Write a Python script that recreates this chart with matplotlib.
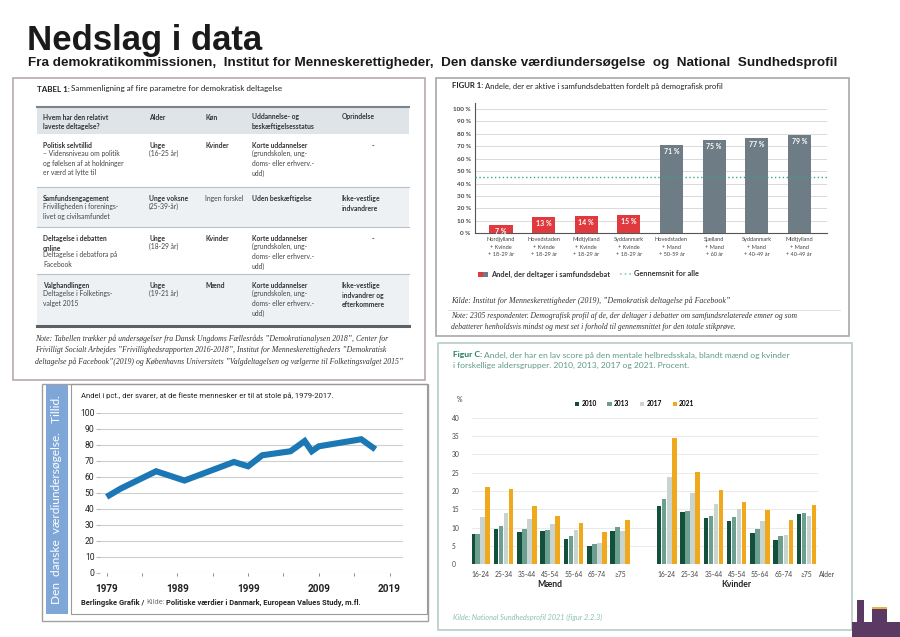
import matplotlib
matplotlib.use("Agg")
import matplotlib.pyplot as plt
from matplotlib import font_manager
from matplotlib.patches import Rectangle
import numpy as np

W, H = 900, 637

# ---------------- data ----------------
fig1_labels = [
    "Nordjylland\n+ Kvinde\n+ 18-29 år", "Hovedstaden\n+ Kvinde\n+ 18-29 år",
    "Midtjylland\n+ Kvinde\n+ 18-29 år", "Syddanmark\n+ Kvinde\n+ 18-29 år",
    "Hovedstaden\n+ Mand\n+ 50-59 år", "Sjælland\n+ Mand\n+ 60 år",
    "Syddanmark\n+ Mand\n+ 40-49 år", "Midtjylland\n+ Mand\n+ 40-49 år",
]
fig1_values = [7, 13, 14, 15, 71, 75, 77, 79]
fig1_average = 45.5

trust_years = [1979, 1981, 1986, 1990, 1997, 1999, 2001, 2005, 2007, 2008, 2009, 2015, 2017]
trust_values = [47.4, 52.6, 63.4, 57.6, 69.2, 66.5, 73.4, 75.9, 82.3, 75.9, 79.0, 83.4, 77.1]

age_groups = ["16-24", "25-34", "35-44", "45-54", "55-64", "65-74", "≥75"]
survey_years = ["2010", "2013", "2017", "2021"]
men = {
    "2010": [8.3, 9.5, 8.9, 9.1, 6.9, 4.9, 9.1],
    "2013": [8.2, 10.4, 9.5, 9.4, 7.8, 5.6, 10.1],
    "2017": [12.9, 14.0, 12.3, 11.1, 9.3, 5.9, 9.1],
    "2021": [21.2, 20.6, 15.8, 13.3, 11.3, 8.9, 12.0],
}
women = {
    "2010": [15.9, 14.4, 12.5, 11.8, 8.6, 6.5, 13.6],
    "2013": [17.7, 14.6, 13.3, 12.8, 9.5, 7.6, 13.9],
    "2017": [23.8, 19.5, 16.5, 15.1, 11.9, 7.9, 13.3],
    "2021": [34.4, 25.2, 20.2, 17.0, 14.8, 12.0, 16.3],
}

table_header = ["Hvem har den relativt\nlaveste deltagelse?", "Alder", "Køn",
                "Uddannelse- og\nbeskæftigelsesstatus", "Oprindelse"]
table_rows = [
    [("Politisk selvtillid", "– Vidensniveau om politik\nog følelsen af at holdninger\ner værd at lytte til"),
     ("Unge", "(16-25 år)"), ("Kvinder", ""),
     ("Korte uddannelser", "(grundskolen, ung-\ndoms- eller erhverv.-\nudd)"), ("-", "")],
    [("Samfundsengagement", "Frivilligheden i forenings-\nlivet og civilsamfundet"),
     ("Unge voksne", "(25-39-år)"), ("", "Ingen forskel"),
     ("Uden beskæftigelse", ""), ("Ikke-vestlige\nindvandrere", "")],
    [("Deltagelse i debatten\nonline", "Deltagelse i debatfora på\nFacebook"),
     ("Unge", "(18-29 år)"), ("Kvinder", ""),
     ("Korte uddannelser", "(grundskolen, ung-\ndoms- eller erhverv.-\nudd)"), ("-", "")],
    [("Valghandlingen", "Deltagelse i Folketings-\nvalget 2015"),
     ("Unge", "(19-21 år)"), ("Mænd", ""),
     ("Korte uddannelser", "(grundskolen, ung-\ndoms- eller erhverv.-\nudd)"),
     ("Ikke-vestlige\nindvandrer og\nefterkommere", "")],
]


def pick(*names):
    have = {f.name for f in font_manager.fontManager.ttflist}
    for n in names:
        if n in have:
            return n
    return "DejaVu Sans"


SANS = pick("Lato", "Open Sans", "DejaVu Sans")
NARROW = pick("Liberation Sans Narrow", "Roboto", "Liberation Sans")
SERIF = pick("Liberation Serif", "DejaVu Serif")
HEAD = pick("Liberation Sans Narrow", "Liberation Sans")


def rect(x0, y0, x1, y1):
    return [x0 / W, 1 - y1 / H, (x1 - x0) / W, (y1 - y0) / H]


fig = plt.figure(figsize=(9, 6.37), dpi=100)
fig.patch.set_facecolor("white")
bg = fig.add_axes([0, 0, 1, 1])
bg.set_xlim(0, W)
bg.set_ylim(H, 0)
bg.axis("off")
renderer = fig.canvas.get_renderer()


def rich(x, y, parts, gap=2.0, **kw):
    for txt, props in parts:
        t = bg.text(x, y, txt, **{**kw, **props})
        x += t.get_window_extent(renderer).width + gap


def box(x0, y0, x1, y1, ec, fc="none", lw=1.0, z=0):
    bg.add_patch(Rectangle((x0, y0), x1 - x0, y1 - y0, ec=ec, fc=fc, lw=lw, zorder=z))


# ---------------- heading ----------------
bg.text(27, 50, "Nedslag i data", fontsize=25, fontweight="bold", family=HEAD,
        color="#1a1a1a", va="baseline")
bg.text(28, 66, "Fra demokratikommissionen,  Institut for Menneskerettigheder,  Den danske "
        "værdiundersøgelse  og  National  Sundhedsprofil", fontsize=9.7, fontweight="bold",
        family=HEAD, color="#1a1a1a", va="baseline")

# ---------------- table panel ----------------
box(13, 78, 425, 380, "#b7a9a9", lw=1.2)
rich(37, 89, [("TABEL 1:", dict(fontweight="bold")),
              ("Sammenligning af fire parametre for demokratisk deltagelse", {})],
     gap=1.5, fontsize=5.8, family=SANS, color="#222222", va="center")

col_x = [43, 149, 205, 252, 342]
bg.add_patch(Rectangle((37, 107), 372, 27, fc="#dfe4e9", ec="none"))
bg.plot([37, 409], [107, 107], color="#7d848b", lw=1.5)
for cx, head in zip(col_x, table_header):
    bg.text(cx, 113.5, head, fontsize=4.9, fontweight="bold", family=SANS, color="#333333",
            va="top", linespacing=1.45)

row_y = [134, 187, 227, 274, 326]
line_h = 8.0
for i, row in enumerate(table_rows):
    top, bot = row_y[i], row_y[i + 1]
    if i % 2 == 1:
        bg.add_patch(Rectangle((37, top), 372, bot - top, fc="#eef1f4", ec="none"))
    if i > 0:
        bg.plot([37, 409], [top, top], color="#b9c0c7", lw=0.8)
    for j, (bold, reg) in enumerate(row):
        y = top + 8
        x = col_x[j]
        if bold == "-":
            bg.text(373, y, "-", fontsize=5, fontweight="bold", family=SANS,
                    color="#333333", va="top", ha="center")
            continue
        if bold:
            bg.text(x, y, bold, fontsize=4.9, fontweight="bold", family=SANS,
                    color="#333333", va="top", linespacing=1.45)
            y += line_h * (bold.count("\n") + 1)
        if reg:
            bg.text(x, y, reg, fontsize=4.9, family=SANS, color="#444444", va="top",
                    linespacing=1.45)
bg.plot([37, 409], [326, 326], color="#5b6168", lw=2.2)

table_note = ("Note: Tabellen trækker på undersøgelser fra Dansk Ungdoms Fællesråds \u201dDemokratianalysen 2018\u201d, Center for\n"
              "Frivilligt Socialt Arbejdes \u201dFrivillighedsrapporten 2016-2018\u201d, Institut for Menneskerettigheders \u201dDemokratisk\n"
              "deltagelse på Facebook\u201d(2019) og Københavns Universitets \u201dValgdeltagelsen og vælgerne til Folketingsvalget 2015\u201d")
bg.text(35, 334, table_note, fontsize=5.6, style="italic", family=SERIF, color="#333333",
        va="top", linespacing=1.5)

# ---------------- figur 1 panel ----------------
box(436, 78, 849, 336, "#a8a8a8", lw=1.2)
rich(452, 86, [("FIGUR 1:", dict(fontweight="bold")),
               ("Andele, der er aktive i samfundsdebatten fordelt på demografisk profil", {})],
     gap=1.5, fontsize=5.6, family=SANS, color="#222222", va="center")

ax1 = fig.add_axes(rect(475, 102.8, 827, 233.3))
pos = np.arange(len(fig1_values))
colors1 = ["#e0393e"] * 4 + ["#6e7c85"] * 4
ax1.bar(pos, fig1_values, width=0.54, color=colors1, zorder=3)
for p, v in zip(pos, fig1_values):
    ax1.text(p, v - 2.5, f"{v} %", ha="center", va="top", color="white", fontsize=5,
             fontweight="bold", family=SANS, zorder=4)
ax1.axhline(fig1_average, color="#36a88e", lw=1.0, ls=(0, (1, 1.8)), zorder=4)
ax1.set_xlim(-0.61, 7.65)
ax1.set_ylim(0, 105)
ax1.set_yticks(range(0, 101, 10))
ax1.set_yticklabels([f"{t} %" for t in range(0, 101, 10)], fontsize=4.6, family=SANS,
                    fontweight="bold", color="#444444")
ax1.set_xticks(pos)
ax1.set_xticklabels(fig1_labels, fontsize=4.1, family=SANS, color="#444444", linespacing=1.55)
ax1.tick_params(axis="both", length=0, pad=3)
ax1.grid(axis="y", color="#d4d4d4", lw=0.6, zorder=0)
for s in ["top", "right"]:
    ax1.spines[s].set_visible(False)
ax1.spines["left"].set_color("#555555")
ax1.spines["bottom"].set_color("#555555")
ax1.spines["left"].set_linewidth(0.8)
ax1.spines["bottom"].set_linewidth(0.8)

bg.add_patch(Rectangle((478, 271.5), 5, 5, fc="#e0393e", ec="none"))
bg.add_patch(Rectangle((483, 271.5), 5, 5, fc="#6e7c85", ec="none"))
bg.text(491, 274, "Andel, der deltager i samfundsdebat", fontsize=5.3, fontweight="bold",
        family=SANS, color="#333333", va="center")
bg.plot([620, 631], [274, 274], color="#8ec9c0", lw=1.2, ls=(0, (1, 1.8)))
bg.text(634, 274, "Gennemsnit for alle", fontsize=5.3, fontweight="bold", family=SANS,
        color="#333333", va="center")
bg.text(451, 301, "Kilde: Institut for Menneskerettigheder (2019), \u201dDemokratisk deltagelse på Facebook\u201d",
        fontsize=5.7, style="italic", family=SERIF, color="#333333", va="center")
bg.plot([448, 840], [309.5, 309.5], color="#dddddd", lw=0.6)
bg.text(451, 312, "Note: 2305 respondenter. Demografisk profil af de, der deltager i debatter om samfundsrelaterede emner og som\n"
        "debatterer henholdsvis mindst og mest set i forhold til gennemsnittet for den totale stikprøve.",
        fontsize=5.5, style="italic", family=SERIF, color="#333333", va="top", linespacing=1.5)

# ---------------- trust line chart panel ----------------
box(42, 384, 428, 621, "#a0a0a0", lw=1.0)
bg.add_patch(Rectangle((46, 385), 22, 229, fc="#7ea7d8", ec="none"))
bg.text(57, 500, "Den  danske  værdiundersøgelse.   Tillid.", rotation=90, ha="center",
        va="center", fontsize=8.6, family=SANS, color="white")
box(71, 384, 427, 614, "#9a9a9a", lw=0.8)
bg.text(81, 396, "Andel i pct., der svarer, at de fleste mennesker er til at stole på, 1979-2017.",
        fontsize=5.5, family=NARROW, color="#222222", va="center")

ax2 = fig.add_axes(rect(100, 412.7, 403, 572.7))
ax2.plot(trust_years, trust_values, color="#1b78b4", lw=4.4, solid_joinstyle="miter",
         solid_capstyle="butt", clip_on=False, zorder=3)
ax2.set_xlim(1978.06, 2020.9)
ax2.set_ylim(0, 100)
ax2.set_yticks(range(0, 101, 10))
ax2.set_yticklabels([str(t) for t in range(0, 101, 10)], fontsize=6.2, family=NARROW,
                    color="#222222")
ax2.set_xticks([1979, 1989, 1999, 2009, 2019])
ax2.set_xticklabels(["1979", "1989", "1999", "2009", "2019"], fontsize=7.2, family=NARROW,
                    fontweight="bold", color="#222222")
ax2.set_xticks([1984, 1994, 2004, 2014], minor=True)
ax2.tick_params(axis="y", length=3, width=0.5, color="#999999", pad=1)
ax2.tick_params(axis="x", which="both", length=2, width=0.6, color="#777777", pad=6,
                direction="out")
ax2.grid(axis="y", color="#cfcfcf", lw=0.8, zorder=0)
for s in ax2.spines.values():
    s.set_visible(False)
rich(81, 603, [("Berlingske Grafik /", dict(fontweight="bold")),
               ("Kilde:", dict(color="#777777")),
               ("Politiske værdier i Danmark, European Values Study, m.fl.", dict(fontweight="bold"))],
     gap=1.8, fontsize=5.4, family=NARROW, color="#222222", va="center")

# ---------------- figur C panel ----------------
box(438, 343, 852, 630, "#b5cdc4", lw=1.2)
rich(453, 355, [("Figur C:", dict(fontweight="bold", color="#1f7a62")),
                ("Andel, der har en lav score på den mentale helbredsskala, blandt mænd og kvinder", {})],
     gap=1.6, fontsize=6.1, family=SANS, color="#5f9a86", va="center")
bg.text(453, 365, "i forskellige aldersgrupper. 2010, 2013, 2017 og 2021. Procent.", fontsize=6.1,
        family=SANS, color="#5f9a86", va="center")
bg.text(457, 399.5, "%", fontsize=5, family=SANS, color="#444444", va="center")

ax3 = fig.add_axes(rect(471.7, 417.7, 818.3, 564.3))
colors3 = {"2010": "#12503c", "2013": "#6d9f91", "2017": "#c7d4d0", "2021": "#f0a81c"}
n = len(age_groups)
men_x = np.arange(n)
women_x = np.arange(n) + n + 1
bw = 0.215
for k, yr in enumerate(survey_years):
    off = (k - 1.5) * bw
    ax3.bar(men_x + off, men[yr], width=bw * 0.92, color=colors3[yr], zorder=3, label=yr)
    ax3.bar(women_x + off, women[yr], width=bw * 0.92, color=colors3[yr], zorder=3)
ax3.set_xlim(-0.36, 14.5)
ax3.set_ylim(0, 40)
ax3.set_yticks(range(0, 41, 5))
ax3.set_yticklabels([str(t) for t in range(0, 41, 5)], fontsize=4.8, family=SANS,
                    color="#444444", ha="left")
ax3.tick_params(axis="y", length=0, pad=14.5)
ax3.set_xticks(np.concatenate([men_x, women_x]))
ax3.set_xticklabels(age_groups * 2, fontsize=4.9, family=SANS, color="#444444")
ax3.tick_params(axis="x", length=0, pad=5)
ax3.grid(axis="y", color="#e6e6e6", lw=0.6, zorder=0)
for s in ax3.spines.values():
    s.set_visible(False)
ax3.text(men_x.mean(), -5.4, "Mænd", ha="center", va="center", fontsize=6.2,
         fontweight="bold", family=SANS, color="#222222")
ax3.text(women_x.mean(), -5.4, "Kvinder", ha="center", va="center", fontsize=6.2,
         fontweight="bold", family=SANS, color="#222222")
ax3.text(14.55, -2.9, "Alder", ha="left", va="center", fontsize=4.9, family=SANS,
         color="#444444")
ax3.legend(loc="lower center", bbox_to_anchor=(0.47, 1.03), ncol=4, frameon=False,
           handlelength=0.7, handleheight=0.7, handletextpad=0.3, columnspacing=1.6,
           prop={"family": SANS, "size": 4.8, "weight": "bold"})
bg.text(453, 617, "Kilde: National Sundhedsprofil 2021 (figur 2.2.3)", fontsize=5.3,
        style="italic", family=SANS, color="#8fc0b0", va="center")

# corner decoration
bg.add_patch(Rectangle((852, 622), 48, 15, fc="#5a3a63", ec="none"))
bg.add_patch(Rectangle((857, 600), 7, 22, fc="#5a3a63", ec="none"))
bg.add_patch(Rectangle((872, 609), 15, 13, fc="#5a3a63", ec="none"))
bg.add_patch(Rectangle((872, 607), 15, 2, fc="#e8b24a", ec="none"))

fig.savefig("out.png", dpi=100)
